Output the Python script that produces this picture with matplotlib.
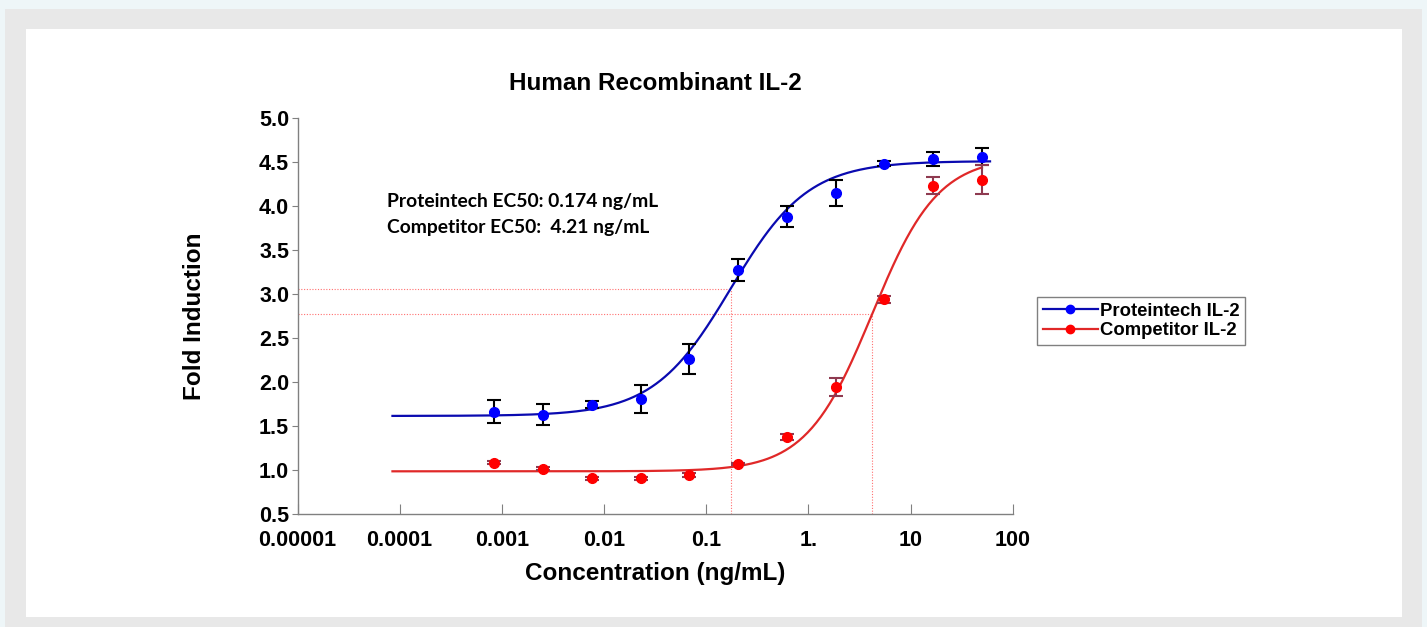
import numpy as np
import matplotlib
matplotlib.use("Agg")
from matplotlib import pyplot as plt
from matplotlib.patches import Rectangle

# concentraciones (ng/mL), diluciones 1:3
conc = [0.000847, 0.00254, 0.00762, 0.0229, 0.0686, 0.206, 0.617, 1.85, 5.56, 16.7, 50.0]

# Proteintech IL-2
pt_y = [1.66, 1.625, 1.74, 1.80, 2.26, 3.27, 3.875, 4.15, 4.48, 4.53, 4.56]
pt_err = [0.13, 0.12, 0.04, 0.16, 0.17, 0.13, 0.12, 0.15, 0.03, 0.08, 0.10]

# Competitor IL-2
cp_y = [1.08, 1.01, 0.90, 0.90, 0.94, 1.06, 1.37, 1.94, 2.94, 4.23, 4.30]
cp_err = [0.02, 0.02, 0.02, 0.02, 0.02, 0.01, 0.03, 0.10, 0.04, 0.10, 0.17]

# parametros 4PL (bottom, top, EC50, hill)
pt_fit = [1.61, 4.51, 0.174, 1.15]
cp_fit = [0.98, 4.56, 4.21, 1.35]
pt_range = [8.5e-5, 60.0]
cp_range = [8.5e-5, 50.0]

xticks = [1e-5, 1e-4, 1e-3, 1e-2, 1e-1, 1, 10, 100]
xticklabels = ["0.00001", "0.0001", "0.001", "0.01", "0.1", "1.", "10", "100"]
yticks = [0.5, 1.0, 1.5, 2.0, 2.5, 3.0, 3.5, 4.0, 4.5, 5.0]


def logistic(x, p):
    b, t, ec, h = p
    return b + (t - b) / (1 + (ec / x) ** h)


fig = plt.figure(figsize=(14.27, 6.27), dpi=100)
fig.patch.set_facecolor("#eef6f8")
# marcos de fondo
fig.add_artist(Rectangle((5 / 1427, 0), 1417 / 1427, 1 - 9 / 627,
                         transform=fig.transFigure, facecolor="#e8e8e8", edgecolor="none", zorder=-10))
fig.add_artist(Rectangle((26 / 1427, 1 - 617 / 627), 1376 / 1427, 588 / 627,
                         transform=fig.transFigure, facecolor="white", edgecolor="none", zorder=-9))

ax = fig.add_axes([297.5 / 1427, 1 - 513.5 / 627, 715.2 / 1427, 395.5 / 627])
ax.set_facecolor("none")
ax.set_zorder(1)
ax.set_xscale("log")
ax.set_xlim(1e-5, 100)
ax.set_ylim(0.5, 5.0)

# curvas ajustadas
xs = np.logspace(np.log10(pt_range[0]), np.log10(pt_range[1]), 400)
ax.plot(xs, logistic(xs, pt_fit), color="#0a0ab0", lw=1.6, zorder=3)
xs2 = np.logspace(np.log10(cp_range[0]), np.log10(cp_range[1]), 400)
ax.plot(xs2, logistic(xs2, cp_fit), color="#e02828", lw=1.6, zorder=3)

# lineas EC50 punteadas
for p in [pt_fit, cp_fit]:
    half = (p[0] + p[1]) / 2
    ax.plot([1e-5, p[2]], [half, half], color="#ff7070", lw=0.8, ls=(0, (1, 1.5)), zorder=1)
    ax.plot([p[2], p[2]], [0.5, half], color="#ff7070", lw=0.8, ls=(0, (1, 1.5)), zorder=1)

# puntos con barras de error
ax.errorbar(conc, pt_y, yerr=pt_err, fmt="o", color="blue", ms=7, ecolor="black",
            elinewidth=1.5, capsize=5, capthick=1.5, zorder=4)
ax.errorbar(conc, cp_y, yerr=cp_err, fmt="o", color="red", ms=7, ecolor="#8e3a50",
            elinewidth=1.5, capsize=5, capthick=1.5, zorder=4)

# ejes
for s in ["top", "right"]:
    ax.spines[s].set_visible(False)
for s in ["left", "bottom"]:
    ax.spines[s].set_color("#808080")
    ax.spines[s].set_linewidth(1)
ax.set_xticks(xticks)
ax.set_xticklabels(xticklabels)
ax.minorticks_off()
ax.set_yticks(yticks)
ax.set_yticklabels(["%.1f" % v for v in yticks])
ax.tick_params(axis="x", direction="in", length=7, color="#808080", pad=12)
ax.tick_params(axis="y", direction="out", length=4, color="#808080", pad=2)
for lab in ax.get_xticklabels() + ax.get_yticklabels():
    lab.set_fontfamily("Liberation Sans")
    lab.set_fontweight("bold")
    lab.set_fontsize(15.5)

ax.set_title("Human Recombinant IL-2", fontsize=17.5, fontweight="bold",
             family="Liberation Sans", pad=20)
ax.set_xlabel("Concentration (ng/mL)", fontsize=17.5, fontweight="bold",
              family="Liberation Sans", labelpad=8)
ax.set_ylabel("Fold Induction", fontsize=17.5, fontweight="bold",
              family="Liberation Sans", labelpad=38)

ax.text(387 / 1427, 1 - 201 / 627, "Proteintech EC50: 0.174 ng/mL", transform=fig.transFigure,
        fontsize=13.9, fontweight="bold", family="Lato", va="center")
ax.text(387 / 1427, 1 - 228 / 627, "Competitor EC50:  4.21 ng/mL", transform=fig.transFigure,
        fontsize=13.9, fontweight="bold", family="Lato", va="center")

# leyenda
h1, = ax.plot([], [], "-o", color="#0a0ab0", mfc="blue", mec="blue", ms=6, lw=1.6)
h2, = ax.plot([], [], "-o", color="#e02828", mfc="red", mec="red", ms=6, lw=1.6)
leg = fig.legend([h1, h2], ["Proteintech IL-2", "Competitor IL-2"],
                 loc="upper left", bbox_to_anchor=(1037 / 1427, 1 - 297 / 627),
                 borderaxespad=0, fancybox=False, edgecolor="#808080", framealpha=1,
                 handlelength=3.0, handletextpad=0.1, borderpad=0.3, labelspacing=0.15,
                 prop={"family": "Liberation Sans", "weight": "bold", "size": 13.3})
leg.get_frame().set_linewidth(1)

fig.savefig("out.png", dpi=100)
